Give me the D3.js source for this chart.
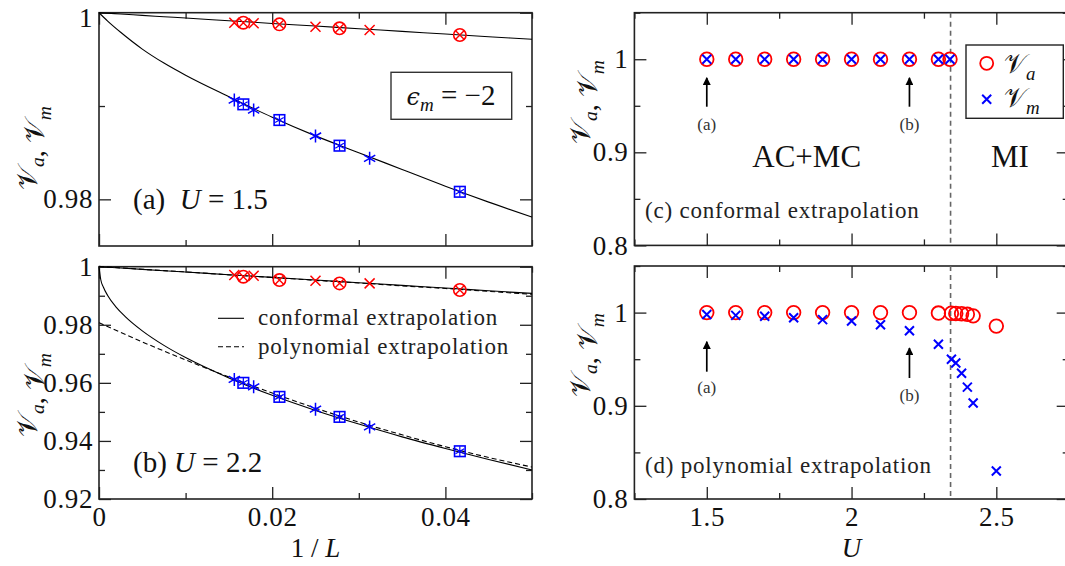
<!DOCTYPE html>
<html><head><meta charset="utf-8">
<script src="https://cdn.jsdelivr.net/npm/d3@7"></script>
<style>
html,body{margin:0;padding:0;background:#fff;}
svg{display:block;}
svg text{font-family:"Liberation Serif","DejaVu Serif","Noto Serif",serif;}
</style></head><body>
<svg id="fig" width="1065" height="566"></svg>
<script>
// ---------- finite-size data (1/L) ----------
const invLset1 = [1/64, 1/56, 1/40, 1/32];   // L = 64, 56, 40, 32
const invLset2 = [1/60, 1/48, 1/36, 1/24];   // L = 60, 48, 36, 24

// panel (a): U = 1.5
const vaA1 = [0.99893, 0.99886, 0.99850, 0.99815];
const vaA2 = [0.99893, 0.99875, 0.99833, 0.99761];
const vmA1 = [0.99064, 0.98957, 0.98679, 0.98440];
const vmA2 = [0.99018, 0.98850, 0.98575, 0.98081];

// panel (b): U = 2.2
const vaB1 = [0.99713, 0.99690, 0.99517, 0.99425];
const vaB2 = [0.99655, 0.99541, 0.99425, 0.99197];
const vmB1 = [0.96117, 0.95862, 0.95093, 0.94483];
const vmB2 = [0.96000, 0.95517, 0.94828, 0.93645];

// extrapolation curves
const fitXa   = [0, 0.001, 0.0025, 0.005, 0.0075, 0.01, 0.015, 0.02, 0.025, 0.03, 0.035, 0.04, 0.045, 0.05];
const vaConfA = [1, 0.99994, 0.99986, 0.99971, 0.99957, 0.99943, 0.99914, 0.99885, 0.99857, 0.99828, 0.99800, 0.99771, 0.99743, 0.99715];
const vmConfA = [1, 0.9991, 0.9979, 0.9961, 0.9946, 0.9933, 0.9910, 0.9888, 0.9868, 0.9850, 0.9832, 0.9814, 0.9797, 0.9781];

const fitXb   = [0, 0.0002, 0.0005, 0.001, 0.002, 0.003, 0.005, 0.0075, 0.01, 0.015, 0.02, 0.025, 0.03, 0.035, 0.04, 0.045, 0.05];
const vmConfB = [1, 0.9956, 0.9930, 0.9901, 0.9860, 0.9829, 0.9779, 0.9729, 0.9687, 0.9617, 0.9557, 0.9505, 0.9458, 0.9414, 0.9374, 0.9336, 0.9300];
const polyXb  = [0, 0.005, 0.01, 0.015, 0.02, 0.025, 0.03, 0.035, 0.04, 0.045, 0.05];
const vmPolyB = [0.9807, 0.9741, 0.9679, 0.9620, 0.9565, 0.9513, 0.9465, 0.9421, 0.9380, 0.9343, 0.9310];
const vaConfB = [1, 0.99908, 0.99816, 0.99724, 0.99632, 0.99540, 0.99448, 0.99356, 0.99264, 0.99172, 0.99080];
const vaPolyB = [1.0001, 0.9991, 0.9982, 0.9972, 0.9963, 0.9953, 0.9944, 0.9934, 0.9925, 0.9915, 0.9905];

// ---------- thermodynamic-limit data vs U ----------
const uConf  = [1.5, 1.6, 1.7, 1.8, 1.9, 2.0, 2.1, 2.2, 2.3, 2.34];
const vaConf = [1, 1, 1, 1, 1, 1, 1, 1, 1, 1];
const vmConf = [1, 1, 1, 1, 1, 1, 1, 1, 1, 1];

const uPoly  = [1.5, 1.6, 1.7, 1.8, 1.9, 2.0, 2.1, 2.2, 2.3, 2.345, 2.36, 2.38, 2.40, 2.42, 2.5];
const vaPoly = [1, 1, 1, 1, 1, 1, 1, 1, 0.9995, 0.9993, 0.9991, 0.9988, 0.9982, 0.9965, 0.9855];
const vmPoly = [0.998, 0.997, 0.996, 0.9945, 0.9925, 0.991, 0.987, 0.9805, 0.966, 0.950, 0.946, 0.935, 0.920, 0.903, 0.830];

const uCritical = 2.342;

// tick values
const xTicksL = [0, 0.02, 0.04],  xMinorL = [0.01, 0.03, 0.05];
const yTicksA = [0.98, 1],        yMinorA = [0.99];
const yTicksB = [0.92, 0.94, 0.96, 0.98, 1], yMinorB = [0.93, 0.95, 0.97, 0.99];
const xTicksR = [1.5, 2, 2.5],    xMinorR = [1.25, 1.75, 2.25, 2.75];
const yTicksR = [0.8, 0.9, 1],    yMinorR = [0.85, 0.95, 1.05];

const RED = "#ff0000", BLUE = "#0000ff", INK = "#222";
const SERIF = "Liberation Serif, DejaVu Serif, Noto Serif, serif";
const svg = d3.select("#fig");

// ---------- scales ----------
const xL = d3.scaleLinear([0, 0.05], [99, 532]);
const yA = d3.scaleLinear([0.975, 1], [246, 12.7]);
const yB = d3.scaleLinear([0.92, 1], [499, 266.7]);
const xR = d3.scaleLinear([1.25, 2.75], [634.4, 1068.7]);
const yC = d3.scaleLinear([0.8, 1.05], [245.4, 12.7]);
const yD = d3.scaleLinear([0.8, 1.05], [499, 266]);

const fmt = v => String(v);

function frame(x, y, o) {
  const [x0, x1] = x.range(), [y1, y0] = y.range();
  const g = svg.append("g");
  const style = a => a.attr("font-family", SERIF)
    .call(s => s.select(".domain").remove())
    .call(s => s.selectAll("line").attr("stroke", INK).attr("stroke-width", 1.3))
    .call(s => s.selectAll("text").attr("font-size", 27).attr("letter-spacing", 0.6).attr("fill", "#111"));
  // bottom/top
  g.append("g").attr("transform", `translate(0,${y1})`)
    .call(d3.axisBottom(x).tickValues(o.xt).tickSizeInner(-12).tickSizeOuter(0).tickPadding(8)
      .tickFormat(o.xlab ? fmt : "")).call(style);
  g.append("g").attr("transform", `translate(0,${y1})`)
    .call(d3.axisBottom(x).tickValues(o.xm).tickSize(-6).tickFormat("")).call(style);
  g.append("g").attr("transform", `translate(0,${y0})`)
    .call(d3.axisTop(x).tickValues(o.xt).tickSizeInner(-12).tickSizeOuter(0).tickFormat("")).call(style);
  g.append("g").attr("transform", `translate(0,${y0})`)
    .call(d3.axisTop(x).tickValues(o.xm).tickSize(-6).tickFormat("")).call(style);
  // left/right
  const left = g.append("g").attr("transform", `translate(${x0},0)`)
    .call(d3.axisLeft(y).tickValues(o.yt).tickSizeInner(-12).tickSizeOuter(0).tickPadding(6)
      .tickFormat(fmt)).call(style);
  // keep a label sitting on the figure's top edge inside the canvas
  left.selectAll(".tick").filter(d => y(d) < 20).select("text").attr("dy", "0.5em");
  g.append("g").attr("transform", `translate(${x0},0)`)
    .call(d3.axisLeft(y).tickValues(o.ym).tickSize(-6).tickFormat("")).call(style);
  g.append("g").attr("transform", `translate(${x1},0)`)
    .call(d3.axisRight(y).tickValues(o.yt).tickSizeInner(-12).tickSizeOuter(0).tickFormat("")).call(style);
  g.append("g").attr("transform", `translate(${x1},0)`)
    .call(d3.axisRight(y).tickValues(o.ym).tickSize(-6).tickFormat("")).call(style);
  g.append("rect").attr("x", x0).attr("y", y0).attr("width", x1 - x0).attr("height", y1 - y0)
    .attr("fill", "none").attr("stroke", INK).attr("stroke-width", 1.6);
  return g;
}

// ---------- marker primitives ----------
const layer = svg.append("g").attr("id", "marks");
function mCircle(g, cx, cy, r, c, w) {
  g.append("circle").attr("cx", cx).attr("cy", cy).attr("r", r)
    .attr("fill", "none").attr("stroke", c).attr("stroke-width", w);
}
function mCross(g, cx, cy, h, c, w) {
  g.append("path").attr("d", `M${cx-h},${cy-h}L${cx+h},${cy+h}M${cx-h},${cy+h}L${cx+h},${cy-h}`)
    .attr("stroke", c).attr("stroke-width", w).attr("fill", "none");
}
function mStar(g, cx, cy, h, c, w) {
  let d = "";
  [90, 30, 150].forEach(a => {
    const r = a * Math.PI / 180, dx = h * Math.cos(r), dy = h * Math.sin(r);
    d += `M${cx-dx},${cy-dy}L${cx+dx},${cy+dy}`;
  });
  g.append("path").attr("d", d).attr("stroke", c).attr("stroke-width", w).attr("fill", "none");
}
function mSquare(g, cx, cy, h, c, w) {
  g.append("rect").attr("x", cx - h).attr("y", cy - h).attr("width", 2*h).attr("height", 2*h)
    .attr("fill", "none").attr("stroke", c).attr("stroke-width", w);
}

// ---------- left panels (a) and (b) ----------
frame(xL, yA, {xt: xTicksL, xm: xMinorL, yt: yTicksA, ym: yMinorA, xlab: false});
frame(xL, yB, {xt: xTicksL, xm: xMinorL, yt: yTicksB, ym: yMinorB, xlab: true});

function curve(xs, ys, x, y, dash) {
  const line = d3.line().x(d => x(d[0])).y(d => y(d[1])).curve(d3.curveMonotoneX);
  layer.append("path").attr("d", line(xs.map((v, i) => [v, ys[i]])))
    .attr("fill", "none").attr("stroke", "#000").attr("stroke-width", 1.1)
    .attr("stroke-dasharray", dash ? "5,3" : null);
}
curve(fitXa, vaConfA, xL, yA);
curve(fitXa, vmConfA, xL, yA);
curve(polyXb, vaConfB, xL, yB);
curve(polyXb, vaPolyB, xL, yB, true);
curve(fitXb, vmConfB, xL, yB);
curve(polyXb, vmPolyB, xL, yB, true);

function sizeMarks(y, va1, va2, vm1, vm2) {
  invLset1.forEach((v, i) => {
    mCross(layer, xL(v), y(va1[i]), 5, RED, 1.5);
    mStar(layer, xL(v), y(vm1[i]), 6.5, BLUE, 1.5);
  });
  invLset2.forEach((v, i) => {
    mCircle(layer, xL(v), y(va2[i]), 6.2, RED, 1.6);
    mCross(layer, xL(v), y(va2[i]), 4.2, RED, 1.4);
    mSquare(layer, xL(v), y(vm2[i]), 5.3, BLUE, 1.6);
    mStar(layer, xL(v), y(vm2[i]), 5, BLUE, 1.2);
  });
}
sizeMarks(yA, vaA1, vaA2, vmA1, vmA2);
sizeMarks(yB, vaB1, vaB2, vmB1, vmB2);

function txt(x, y, size) {
  return svg.append("text").attr("x", x).attr("y", y).attr("font-size", size)
    .attr("font-family", SERIF).attr("fill", "#111");
}

// panel labels
function uLabel(x, y, tag, val) {
  const t = txt(x, y, 29).attr("xml:space", "preserve");
  t.append("tspan").text(tag);
  t.append("tspan").attr("font-style", "italic").text("U");
  t.append("tspan").text(" = " + val);
}
uLabel(133, 209, "(a)  ", "1.5");
uLabel(133, 472, "(b) ", "2.2");

// epsilon box
svg.append("rect").attr("x", 391).attr("y", 72.3).attr("width", 120.7).attr("height", 47)
  .attr("fill", "#fff").attr("stroke", "#333").attr("stroke-width", 1.4);
{
  const t = txt(451, 105, 29).attr("text-anchor", "middle");
  t.append("tspan").attr("font-style", "italic").attr("font-family", "DejaVu Serif, serif")
    .attr("font-size", 24).text("\u03F5");
  t.append("tspan").attr("font-style", "italic").attr("font-size", 19).attr("dy", 6).text("m");
  t.append("tspan").attr("dy", -6).text(" = \u22122");
}

// line-style legend in (b)
[["conformal extrapolation", null, 318.3], ["polynomial extrapolation", "5,3", 346.7]].forEach(([lab, dash, ly]) => {
  svg.append("line").attr("x1", 218).attr("x2", 244).attr("y1", ly).attr("y2", ly)
    .attr("stroke", "#000").attr("stroke-width", 1.1).attr("stroke-dasharray", dash);
  txt(258, ly + 7, 23).attr("letter-spacing", 0.8).attr("fill", "#222").text(lab);
});

// ---------- right panels (c) and (d) ----------
frame(xR, yC, {xt: xTicksR, xm: xMinorR, yt: yTicksR, ym: yMinorR, xlab: false});
frame(xR, yD, {xt: xTicksR, xm: xMinorR, yt: yTicksR, ym: yMinorR, xlab: true});

// phase boundary
[yC, yD].forEach(y => {
  svg.append("line").attr("x1", xR(uCritical)).attr("x2", xR(uCritical))
    .attr("y1", y.range()[1]).attr("y2", y.range()[0])
    .attr("stroke", "#666").attr("stroke-width", 1.6).attr("stroke-dasharray", "5,4");
});

function phaseMarks(us, va, vm, y) {
  us.forEach((u, i) => mCircle(layer, xR(u), y(va[i]), 6.8, RED, 1.8));
  us.forEach((u, i) => mCross(layer, xR(u), y(vm[i]), 4.5, BLUE, 2));
}
phaseMarks(uConf, vaConf, vmConf, yC);
phaseMarks(uPoly, vaPoly, vmPoly, yD);
layer.raise();

// arrows marking the U values of panels (a) and (b)
const defs = svg.append("defs");
defs.append("marker").attr("id", "head").attr("viewBox", "0 0 10 10").attr("refX", 9).attr("refY", 5)
  .attr("markerWidth", 8).attr("markerHeight", 8).attr("markerUnits", "userSpaceOnUse").attr("orient", "auto")
  .append("path").attr("d", "M0,0L10,5L0,10Z").attr("fill", "#000");
function arrow(u, y, tail, tip, labV, lab) {
  svg.append("line").attr("x1", xR(u)).attr("x2", xR(u)).attr("y1", y(tail)).attr("y2", y(tip))
    .attr("stroke", "#000").attr("stroke-width", 1.7).attr("marker-end", "url(#head)");
  txt(xR(u), y(labV), 17).attr("dy", "0.35em").attr("text-anchor", "middle").attr("fill", "#333").text(lab);
}
arrow(1.5, yC, 0.949, 0.98, 0.93, "(a)");
arrow(2.2, yC, 0.949, 0.98, 0.93, "(b)");
arrow(1.5, yD, 0.9366, 0.9688, 0.9205, "(a)");
arrow(2.2, yD, 0.9298, 0.962, 0.9116, "(b)");

// phase names and panel captions
txt(806.7, 167, 31).attr("text-anchor", "middle").text("AC+MC");
txt(1010, 167, 31).attr("text-anchor", "middle").text("MI");
txt(645, 218, 23).attr("letter-spacing", 0.8).attr("fill", "#222").text("(c) conformal extrapolation");
txt(645, 473, 23).attr("letter-spacing", 0.8).attr("fill", "#222").text("(d) polynomial extrapolation");

// symbol legend
svg.append("rect").attr("x", 966).attr("y", 45).attr("width", 97.3).attr("height", 73.3)
  .attr("fill", "#fff").attr("stroke", "#222").attr("stroke-width", 1.4);
mCircle(svg, 986.7, 63.3, 6.5, RED, 1.8);
mCross(svg, 986.7, 99.3, 4.5, BLUE, 2);
function vSym(sel, sub, size) {
  sel.append("tspan").attr("font-family", "DejaVu Serif, DejaVu Sans, serif").text("\uD835\uDCB1");
  sel.append("tspan").attr("font-style", "italic").attr("font-size", size * 0.7).attr("dy", size * 0.25).text(sub);
  sel.append("tspan").attr("dy", -size * 0.25).text("");
}
vSym(txt(1004, 73, 27), "a", 27);
vSym(txt(1004, 107, 27), "m", 27);

// axis titles
function yTitle(x, y) {
  const t = svg.append("text").attr("transform", `translate(${x},${y}) rotate(-90)`)
    .attr("font-family", SERIF).attr("text-anchor", "middle").attr("font-size", 28).attr("fill", "#111");
  vSym(t, "a", 28);
  t.append("tspan").text(", ");
  vSym(t, "m", 28);
}
yTitle(37, 148);
yTitle(37, 395);
yTitle(590, 102);
yTitle(590, 355);

{
  const t = txt(315.5, 557, 27).attr("text-anchor", "middle").attr("xml:space", "preserve");
  t.append("tspan").text("1 / ");
  t.append("tspan").attr("font-style", "italic").text("L");
}
txt(851.5, 557, 27).attr("text-anchor", "middle").attr("font-style", "italic").text("U");
</script>
</body></html>
